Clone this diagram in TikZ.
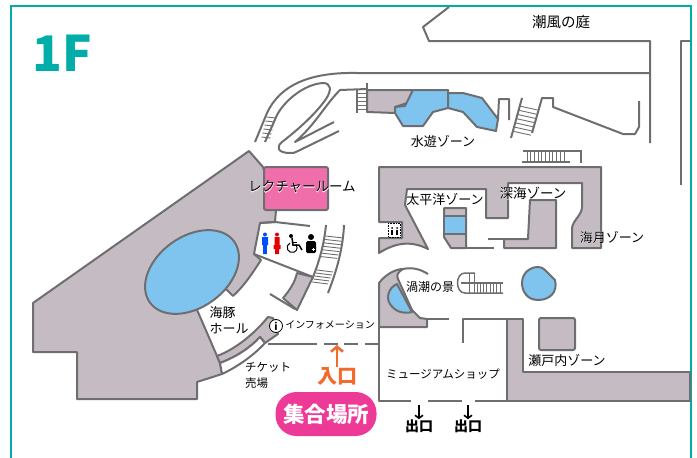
\documentclass[tikz,border=0pt]{standalone}
\usepackage{fontspec}
\setmainfont{Noto Sans CJK JP}
\newfontfamily\halofont{Noto Sans CJK JP}[FakeBold=3]
\newcommand{\halotext}[1]{\rlap{\halofont\color{white}#1}#1}
\newcommand{\jpsize}[1]{\fontsize{#1}{#1}\selectfont}
\definecolor{wallcol}{RGB}{110,110,112}
\definecolor{roomcol}{RGB}{196,188,194}
\definecolor{watercol}{RGB}{126,196,238}
\definecolor{lecturecol}{RGB}{240,110,170}
\definecolor{framecol}{RGB}{0,173,169}
\definecolor{badgecol}{RGB}{238,58,151}
\definecolor{entrycol}{RGB}{242,107,42}
\tikzset{%
  wall/.style    = {draw=wallcol, line width=2pt, line join=round},%
  room/.style    = {wall, fill=roomcol},%
  water/.style   = {wall, fill=watercol},%
  tread/.style   = {draw=wallcol, line width=0.9pt},%
  label/.style   = {inner sep=0pt, text=black},%
  zone/.style    = {label, font=\jpsize{13}},%
  small/.style   = {label, font=\jpsize{10}},%
  exitlabel/.style = {label, font=\jpsize{14}\bfseries},%
  uparrow/.style = {draw=entrycol, line width=2.6pt, -{Straight Barb[length=5pt,width=12pt]}},%
  downarrow/.style = {draw=black, line width=1.6pt, -{Straight Barb[length=3pt,width=8pt]}}%
}
\usetikzlibrary{arrows.meta}
\begin{document}
\begin{tikzpicture}[x=1pt,y=-1pt]
	\useasboundingbox (0,0) rectangle (697,458);
	% frame
	\draw[framecol,line width=2.5pt] (11,458) -- (11,6) -- (691,6) -- (691,458);
	\node[label,text=framecol,font=\jpsize{49}\bfseries] (floorname) at (62,53) {1F};
	% courtyard walls
	\draw[wall] (449,7) -- (423,27) -- (429,41) -- (650,41) -- (650,143);
	\draw[wall] (690,41) -- (681,41) -- (681,185);
	\draw[wall] (650,73) -- (357,73) .. controls (310,72) and (280,85) .. (267,113) -- (255,142);
	% ramp
	\draw[wall] (265,142) -- (277,115) .. controls (285,100) and (305,84) .. (323,83)
		.. controls (331,83) and (332,90) .. (326,99) .. controls (315,115) and (295,132) .. (282,142)
		.. controls (275,148) and (279,153) .. (290,153) .. controls (293,153) and (295,153) .. (298,151) -- (339,131);
	\draw[wall] (334,122) -- (295,142) .. controls (315,125) and (325,105) .. (340,90) -- (367,89);
	\foreach \i in {0,...,5}
		\draw[tread] (266.5-\i*1.0,117+\i*4) -- (275.5-\i*1.0,118+\i*4);
	\draw[wall] (357,90) -- (357,113);
	\draw[wall] (367,83) -- (367,112);
	\foreach \i in {0,...,4}
		\draw[tread] (357,93+\i*4) -- (367,93+\i*4);
	% water zone
	\draw[room] (367,90) -- (413,90) -- (407,103) -- (395,107) -- (395,113) -- (367,112) -- cycle;
	\draw[water] (413,90) -- (448,90) -- (448,108) -- (433,112) -- (423,126) -- (403,126) -- (395,113) -- (395,107) -- (405,106) -- cycle;
	\draw[water] (448,93) -- (463,93) -- (482,98) -- (498,119) -- (496,131) -- (477,127) -- (463,112) -- (448,108) -- cycle;
	\draw[wall] (498,119) -- (499,99) -- (509,99) -- (509,120);
	\draw[wall] (522,98) -- (511,138);
	\draw[wall] (532,133) -- (542,98) -- (553,98) -- (553,107) -- (623,134) -- (635,134) -- (639,127) -- (639,101);
	\foreach \i in {0,...,6}
		\draw[tread] (519.5-\i*1.1,106+\i*4.2) -- (537.5-\i*1.1,110+\i*4.2);
	% stairs above the aquarium
	\draw[tread,line width=1.5pt] (523,151) -- (581,151) -- (581,163);
	\draw[tread,line width=1.5pt] (522,162) -- (570,162);
	\foreach \i in {0,...,10}
		\draw[tread] (527+\i*3.7,151) -- (527+\i*3.7,162);
	% hall
	\draw[room] (249,151) -- (263,167) -- (276,210) -- (275,222) -- (260,223) -- (254,254) -- (261,260)
		.. controls (252,274) and (244,286) .. (233,296) -- (227,290) -- (215,285) -- (193,302) -- (198,312)
		-- (217,356) -- (220,363) -- (222,374) -- (197,382) -- (197,399) -- (77,399) -- (77,352) -- (33,352) -- (33,303) -- cycle;
	\draw[water,shift={(192,272)},rotate=36] (0,0) ellipse [x radius=52pt,y radius=35.4pt];
	\draw[wall,fill=lecturecol,rounded corners=2pt] (264,167) rectangle (328,210);
	% rest rooms
	\draw[wall] (275,222) -- (310,226);
	\draw[wall] (260,223) -- (275,222);
	\draw[wall] (254,254) -- (313,277);
	\draw[room] (297,273) -- (313,277) -- (297,310) -- (283,298) .. controls (290,290) and (295,282) .. (297,273) -- cycle;
	\draw[wall] (270,294) -- (295,309);
	\draw[wall] (326,225) .. controls (324,245) and (319,262) .. (313,277);
	\draw[wall] (344,225) .. controls (343,248) and (337,270) .. (328,293);
	\foreach \i in {0,...,6}
		\draw[tread] (325.5-\i*1.05,236+\i*3.4) -- (343.5-\i*1.05,238+\i*3.4);
	\foreach \i in {0,...,4}
		\draw[tread] (317-\i*1.2,270+\i*3) -- (333-\i*1.2,272+\i*3);
	% ticket office
	\draw[room] (217,356) -- (220,363) .. controls (236,357) and (250,348) .. (260,337) -- (265,343) -- (278,334) -- (273,318) -- (268,317)
		.. controls (255,333) and (236,349) .. (217,356) -- cycle;
	\draw[wall,fill=white] (220,363) .. controls (236,357) and (250,348) .. (260,337) -- (265,343) .. controls (253,356) and (237,367) .. (222,374) -- cycle;
	% entrance line
	\foreach \a/\b in {268/317,324/338,344/358,365/379}
		\draw[wall] (\a,344) -- (\b,344);
	% aquarium
	\draw[room] (379,167) -- (601,167) -- (601,248) -- (572,248) -- (572,228) .. controls (573,220) and (582,215) .. (582,207) -- (582,183)
		-- (508,183) -- (508,218) -- (486,218) -- (486,189) -- (407,189) -- (405,205) -- (428,249)
		.. controls (410,240) and (395,243) .. (379,253) -- (379,238) -- (402,238) -- (402,222) -- (379,222) -- cycle;
	\draw[room] (530,200) -- (556,200) -- (556,248) -- (504,248) -- (504,239) -- (528,239) -- cycle;
	\draw[wall] (504,239) -- (488,239);
	\draw[room] (444,208) -- (466,208) -- (466,248) -- (451,248) -- (444,237) -- cycle;
	\draw[water] (444,216) rectangle (466,234);
	\draw[wall] (466,248) -- (494,248);
	% lift
	\draw[black,line width=0.6pt,densely dotted] (388,223) -- (400,223) -- (400,237) -- (388,237) -- cycle;
	\foreach \x in {392,397} {
		\fill[black] (\x,228) circle (1pt);
		\fill[black] (\x-1.2,229.5) rectangle (\x+1.2,235);
	}
	% whirlpool corner
	\draw[room] (379,283) .. controls (385,275) and (395,269) .. (403,269) .. controls (398,272) and (396,275) .. (398,279)
		-- (412,310) -- (420,318) -- (427,319) -- (427,327) -- (379,327) -- cycle;
	\draw[water] (397,284) .. controls (388,288) and (386,298) .. (390,304) .. controls (395,312) and (404,314) .. (412,312) -- cycle;
	\draw[wall] (403,269) .. controls (412,267) and (420,269) .. (428,274);
	\draw[wall] (427,319) -- (449,319);
	% middle stairs
	\draw[wall,line width=1.5pt] (475,273) -- (465,273) .. controls (455,273) and (455,293) .. (465,293) -- (503,293);
	\draw[wall,line width=1.5pt] (461,283) -- (503,283);
	\draw[tread] (469,273) -- (469,293);
	\draw[tread] (474,273) -- (474,293);
	\foreach \i in {0,...,7}
		\draw[tread] (477+\i*3.3,283) -- (477+\i*3.3,293);
	% tanks
	\draw[water] (555,280) .. controls (558,292) and (550,300) .. (538,300) .. controls (527,300) and (522,291) .. (522,283)
		.. controls (522,273) and (530,267) .. (538,267) .. controls (541,267) and (543,268) .. (545,270) -- cycle;
	\draw[room,rounded corners=2pt] (539,318) rectangle (575,350);
	% shop
	\draw[wall] (379,327) -- (379,401) -- (411,401);
	\draw[wall] (428,401) -- (462,401);
	\draw[room] (475,401) -- (507,401) -- (690,401) -- (690,372) -- (523,372) -- (523,319) -- (507,319) -- (507,401);
	\draw[wall] (463,343) -- (463,319) -- (507,319);
	% icons
	\fill[blue!70!cyan] (265,234.5) circle (2pt);
	\fill[blue!70!cyan] (262,237) rectangle (268,245) (263.2,245) rectangle (266.8,254);
	\fill[red!90!black] (277,234.5) circle (2pt);
	\fill[red!90!black] (274.5,237) rectangle (279.5,245) (273.5,245) rectangle (280.5,249) (275,249) rectangle (279,254);
	\fill[black] (291,236) circle (2pt);
	\draw[black,line width=1.5pt] (292,238) -- (293,245) -- (299,245) -- (302,250);
	\draw[black,line width=1pt] (292,242) -- (297,242);
	\draw[black,line width=1pt] (290,243) arc[start angle=115,end angle=400,radius=5pt];
	\fill[black] (311,237) circle (3pt);
	\fill[black,rounded corners=1.5pt] (306,241) rectangle (316,253);
	\draw[white,line width=0.7pt] (311.5,249.5) -- (314.5,249.5) (313,248) -- (313,251);
	\node[draw=black,circle,line width=0.8pt,fill=white,minimum size=13pt,inner sep=0pt,font=\jpsize{10}\bfseries] (infomark) at (276,326) {i};
	% labels
	\node[label,font=\jpsize{14.5}] (shiokaze) at (561,22) {潮風の庭};
	\node[zone] (suiyu) at (443,141) {水遊ゾーン};
	\node[zone,font=\jpsize{13.5}] (lecture) at (302,187) {\halotext{レクチャールーム}};
	\node[zone] (taiheiyo) at (445,199) {\halotext{太平洋ゾーン}};
	\node[zone,font=\jpsize{13.5}] (shinkai) at (533,193) {\halotext{深海ゾーン}};
	\node[zone] (umitsuki) at (612,237) {\halotext{海月ゾーン}};
	\node[zone,font=\jpsize{12}] (uzushio) at (430,287) {渦潮の景};
	\node[zone] (setouchi) at (567,360) {瀬戸内ゾーン};
	\node[zone,align=left] (iruka) at (229,320) {海豚\\[3.5pt]ホール};
	\node[zone,font=\jpsize{11.5},align=left] (ticket) at (268,375) {チケット\\[4.5pt]売場};
	\node[small] (info) at (330,325) {インフォメーション};
	\node[zone,font=\jpsize{11.5}] (shop) at (443,374) {ミュージアムショップ};
	% entrance and exits
	\node[label,text=entrycol,font=\jpsize{20}\bfseries] (entry) at (337,376) {入口};
	\coordinate (entrytop) at (337,345);
	\draw[uparrow] (entry.north) -- (entrytop);
	\node[fill=badgecol,rounded corners=21pt,minimum width=101pt,minimum height=44pt,inner sep=0pt,text=white,font=\jpsize{21.5}\bfseries] (meeting) at (326,414) {集合場所};
	\node[exitlabel] (exitA) at (419,426) {出口};
	\node[exitlabel] (exitB) at (468,426) {出口};
	\coordinate (exitAtop) at (419,405);
	\coordinate (exitBtop) at (468,405);
	\draw[downarrow] (exitAtop) -- (exitA.north);
	\draw[downarrow] (exitBtop) -- (exitB.north);
\end{tikzpicture}
\end{document}
